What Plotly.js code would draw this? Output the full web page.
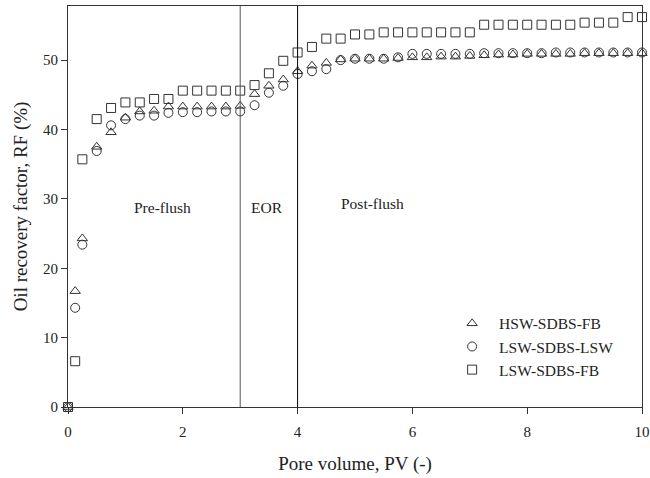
<!DOCTYPE html>
<html>
<head>
<meta charset="utf-8">
<script src="https://cdn.plot.ly/plotly-3.0.1.min.js"></script>
<style>html,body{margin:0;padding:0;background:#fff;}#chart{width:650px;height:478px;}</style>
</head>
<body>
<div id="chart"></div>
<script>
var pv = [0, 0.125, 0.25, 0.5, 0.75, 1.0, 1.25, 1.5, 1.75, 2.0, 2.25, 2.5, 2.75, 3.0,
          3.25, 3.5, 3.75, 4.0, 4.25, 4.5, 4.75, 5.0, 5.25, 5.5, 5.75, 6.0, 6.25, 6.5,
          6.75, 7.0, 7.25, 7.5, 7.75, 8.0, 8.25, 8.5, 8.75, 9.0, 9.25, 9.5, 9.75, 10.0];

var hswSdbsFb = [0, 16.7, 24.3, 37.5, 39.6, 41.7, 42.6, 42.7, 43.3, 43.3, 43.3, 43.3, 43.3, 43.4,
                 45.1, 46.3, 47.2, 48.4, 49.2, 49.6, 50.1, 50.2, 50.2, 50.2, 50.3, 50.4, 50.4, 50.5,
                 50.5, 50.6, 50.7, 50.8, 50.8, 50.9, 50.9, 50.9, 50.9, 51.0, 51.0, 51.0, 51.0, 51.0];

var lswSdbsLsw = [0, 14.3, 23.4, 36.9, 40.6, 41.5, 42.0, 42.0, 42.4, 42.5, 42.5, 42.6, 42.6, 42.6,
                  43.5, 45.3, 46.3, 48.0, 48.4, 48.7, 50.0, 50.2, 50.2, 50.2, 50.4, 50.9, 50.9, 50.9,
                  50.9, 50.9, 51.0, 51.0, 51.0, 51.0, 51.0, 51.1, 51.1, 51.1, 51.1, 51.1, 51.1, 51.1];

var lswSdbsFb = [0, 6.6, 35.7, 41.5, 43.1, 43.9, 43.9, 44.4, 44.4, 45.6, 45.6, 45.6, 45.6, 45.6,
                 46.4, 48.1, 49.9, 51.1, 51.9, 53.1, 53.1, 53.7, 53.7, 54.0, 54.0, 54.0, 54.0, 54.0,
                 54.0, 54.0, 55.1, 55.1, 55.1, 55.1, 55.1, 55.1, 55.1, 55.4, 55.4, 55.4, 56.2, 56.2];

var seriesNames = ['HSW-SDBS-FB', 'LSW-SDBS-LSW', 'LSW-SDBS-FB'];
var stageLabels = ['Pre-flush', 'EOR', 'Post-flush'];
var stageLabelX = [1.64, 3.47, 5.31];
var stageLabelY = [28.8, 28.8, 29.3];
var boundaries = [3, 4];

var fontFam = '"Liberation Serif", "Times New Roman", serif';
var ink = '#222';

function mk(y, name, symbol, size) {
  return {
    x: pv, y: y, name: name, type: 'scatter', mode: 'markers', cliponaxis: false,
    marker: {symbol: symbol, size: size, color: '#333', line: {color: '#333', width: 1}}
  };
}

var data = [
  mk(hswSdbsFb, seriesNames[0], 'triangle-up-open', 9),
  mk(lswSdbsLsw, seriesNames[1], 'circle-open', 9),
  mk(lswSdbsFb, seriesNames[2], 'square-open', 9)
];

var shapes = [
  {type: 'line', xref: 'x', yref: 'paper', x0: boundaries[0], x1: boundaries[0], y0: 0, y1: 1, line: {color: '#555', width: 1}},
  {type: 'line', xref: 'x', yref: 'paper', x0: boundaries[1], x1: boundaries[1], y0: 0, y1: 1, line: {color: '#000', width: 1}}
];

var annotations = stageLabels.map(function (t, i) {
  return {x: stageLabelX[i], y: stageLabelY[i], xref: 'x', yref: 'y', text: t, showarrow: false,
          font: {family: fontFam, size: 15.5, color: ink}};
});

var layout = {
  width: 650, height: 478,
  margin: {l: 67.5, r: 8.3, t: 6, b: 71.3},
  paper_bgcolor: '#fff', plot_bgcolor: '#fff',
  font: {family: fontFam, color: ink, size: 15},
  showlegend: true,
  legend: {x: 0.657, y: 0.25, xanchor: 'left', yanchor: 'top', bgcolor: 'rgba(0,0,0,0)',
           itemwidth: 44, font: {family: fontFam, size: 15.5, color: ink}},
  xaxis: {
    range: [0, 10], tickvals: [0, 2, 4, 6, 8, 10], ticktext: ['0', '2', '4', '6', '8', '10'],
    showgrid: false, zeroline: false, showline: true, mirror: true, linecolor: '#333', linewidth: 1,
    ticks: 'outside', ticklen: 6, tickcolor: '#333', ticklabelstandoff: 5,
    tickfont: {family: fontFam, size: 15, color: ink},
    title: {text: 'Pore volume, PV (-)', font: {family: fontFam, size: 19, color: ink}, standoff: 17}
  },
  yaxis: {
    range: [0, 57.8], tickvals: [0, 10, 20, 30, 40, 50], ticktext: ['0', '10', '20', '30', '40', '50'],
    showgrid: false, zeroline: false, showline: true, mirror: true, linecolor: '#333', linewidth: 1,
    ticks: 'outside', ticklen: 6, tickcolor: '#333',
    tickfont: {family: fontFam, size: 15, color: ink},
    title: {text: 'Oil recovery factor, RF (%)', font: {family: fontFam, size: 19, color: ink}, standoff: 10}
  },
  shapes: shapes,
  annotations: annotations
};

Plotly.newPlot('chart', data, layout, {displayModeBar: false, staticPlot: true});
</script>
</body>
</html>
